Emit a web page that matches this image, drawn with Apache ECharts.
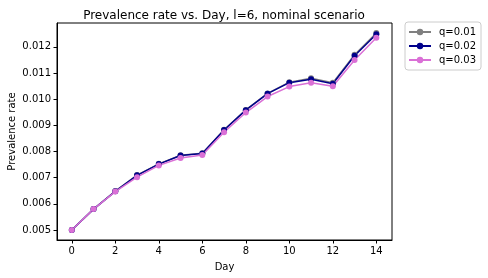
<!DOCTYPE html>
<html><head><meta charset="utf-8">
<script src="https://cdn.jsdelivr.net/npm/echarts@6/dist/echarts.min.js"></script>
<style>html,body{margin:0;padding:0;background:#fff}#c{width:488px;height:278px}</style>
</head><body><div id="c"></div>
<script>
const days = [0,1,2,3,4,5,6,7,8,9,10,11,12,13,14];
const q001 = [0.00500,0.00580,0.00649,0.00710,0.00753,0.00786,0.00793,0.00883,0.00959,0.01022,0.01065,0.01080,0.01063,0.01170,0.01253];
const q002 = [0.00500,0.00580,0.00648,0.00709,0.00752,0.00785,0.00792,0.00882,0.00958,0.01021,0.01063,0.01076,0.01059,0.01166,0.01248];
const q003 = [0.00500,0.00580,0.00647,0.00702,0.00747,0.00775,0.00787,0.00874,0.00949,0.01010,0.01048,0.01063,0.01049,0.01150,0.01235];
const xTicks = [0,2,4,6,8,10,12,14];
const yTicks = [0.005,0.006,0.007,0.008,0.009,0.010,0.011,0.012];
const seriesNames = ['q=0.01','q=0.02','q=0.03'];
const colors = ['#808080','#00008b','#da70d6'];
const seriesData = [q001,q002,q003];

const font = 'DejaVu Sans';
const chart = echarts.init(document.getElementById('c'));
chart.setOption({
  animation:false,
  textStyle:{fontFamily:font},
  title:{text:'Prevalence rate vs. Day, l=6, nominal scenario',left:219,top:5,textAlign:'center',
    textStyle:{fontFamily:font,fontSize:12,fontWeight:'normal',color:'#000'}},
  legend:{right:7,top:22,orient:'vertical',itemWidth:22,itemHeight:8,itemGap:4,
    padding:[5,5,5,3],borderColor:'#ccc',borderWidth:1,borderRadius:3,
    textStyle:{fontFamily:font,fontSize:10,color:'#000',padding:[0,0,0,3]},data:seriesNames},
  grid:{left:57,right:96,top:23,bottom:38,show:true,borderColor:'#000',borderWidth:1,
    containLabel:false,outerBoundsMode:'none'},
  xAxis:{type:'value',min:-0.68,max:14.72,name:'Day',nameLocation:'middle',nameGap:22,nameMoveOverlap:false,
    nameTextStyle:{fontFamily:font,fontSize:10,color:'#000'},
    axisLine:{show:true,onZero:false,lineStyle:{color:'#000',width:1}},splitLine:{show:false},
    axisTick:{show:true,inside:false,length:3.5,lineStyle:{color:'#000'},customValues:xTicks},
    axisLabel:{fontFamily:font,fontSize:10,color:'#000',margin:6,customValues:xTicks}},
  yAxis:{type:'value',min:0.00462,max:0.01291,name:'Prevalence rate',nameLocation:'middle',nameGap:40,nameMoveOverlap:false,
    nameTextStyle:{fontFamily:font,fontSize:10,color:'#000'},
    axisLine:{show:true,onZero:false,lineStyle:{color:'#000',width:1}},splitLine:{show:false},
    axisTick:{show:true,inside:false,length:3.5,lineStyle:{color:'#000'},customValues:yTicks},
    axisLabel:{fontFamily:font,fontSize:10,color:'#000',margin:6,customValues:yTicks,
      formatter:v=>v.toFixed(3)}},
  series:seriesData.map((d,i)=>({
    name:seriesNames[i],type:'line',data:days.map((x,j)=>[x,d[j]]),
    symbol:'circle',symbolSize:6,showSymbol:true,
    itemStyle:{color:colors[i]},lineStyle:{color:colors[i],width:1.5}
  }))
});
</script></body></html>
